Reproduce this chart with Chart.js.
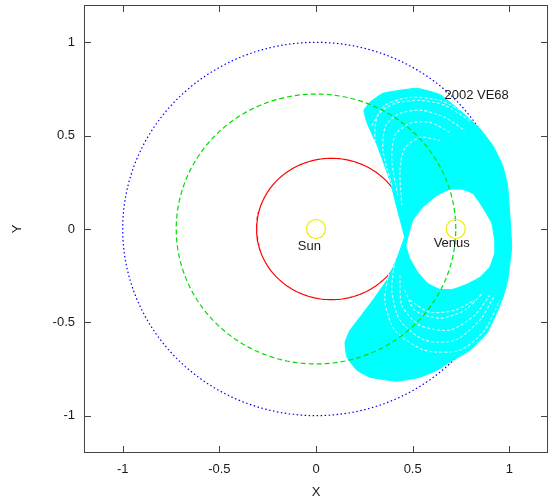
<!DOCTYPE html>
<html>
<head>
<meta charset="utf-8">
<script src="https://cdn.jsdelivr.net/npm/chart.js@4.4.1/dist/chart.umd.min.js"></script>
<style>
  html, body { margin: 0; padding: 0; background: #fff; }
</style>
</head>
<body>
<canvas id="orbitChart" width="552" height="499"></canvas>
<script>
// planet orbits (heliocentric, AU)
var orbitNames = ['Mercury', 'Venus', 'Earth'];
var orbitA = [0.387, 0.723, 1.0];
var orbitE = [0.206, 0.0, 0.0];

// Sun and Venus markers
var bodyNames = ['Sun', 'Venus'];
var bodyX = [0, 0.723];
var bodyY = [0, 0];

// outline of the region swept by 2002 VE68, starting at the narrow waist
var bandOutline = [
  [0.459, -0.044], [0.418, 0.116], [0.382, 0.261], [0.320, 0.438], [0.263, 0.571],
  [0.248, 0.636], [0.279, 0.679], [0.346, 0.727], [0.521, 0.754], [0.640, 0.721],
  [0.744, 0.636], [0.847, 0.539], [0.914, 0.448], [0.965, 0.341], [0.991, 0.234],
  [1.002, 0.084], [1.012, -0.098], [0.991, -0.275], [0.971, -0.355], [0.934, -0.452],
  [0.883, -0.560], [0.795, -0.651], [0.707, -0.703], [0.625, -0.757], [0.537, -0.794],
  [0.418, -0.815], [0.279, -0.794], [0.212, -0.757], [0.160, -0.687], [0.150, -0.607],
  [0.176, -0.543], [0.243, -0.451], [0.305, -0.366], [0.372, -0.264], [0.423, -0.146],
  [0.459, -0.044]
];
// empty hole round Venus
var holeOutline = [
  [0.475, -0.044], [0.465, -0.087], [0.485, -0.157], [0.527, -0.232], [0.578, -0.291],
  [0.640, -0.323], [0.707, -0.323], [0.780, -0.296], [0.847, -0.259], [0.898, -0.205],
  [0.924, -0.130], [0.924, -0.061], [0.909, 0.031], [0.862, 0.116], [0.811, 0.191],
  [0.754, 0.213], [0.692, 0.213], [0.625, 0.180], [0.552, 0.116], [0.501, 0.047],
  [0.475, -0.044]
];
// white gaps between the dashed loops
var gapArcs = [
  [[0.289, 0.555], [0.356, 0.662], [0.485, 0.705], [0.640, 0.689], [0.769, 0.625]],
  [[0.356, 0.288], [0.305, 0.475], [0.320, 0.609], [0.408, 0.673], [0.537, 0.689], [0.666, 0.663], [0.795, 0.582]],
  [[0.392, 0.234], [0.346, 0.422], [0.361, 0.555], [0.434, 0.620], [0.547, 0.636], [0.666, 0.598], [0.769, 0.528]],
  [[0.423, 0.180], [0.392, 0.368], [0.408, 0.502], [0.485, 0.566], [0.589, 0.572], [0.692, 0.518]],
  [[0.444, 0.127], [0.434, 0.314], [0.459, 0.432], [0.537, 0.491], [0.640, 0.475]],
  [[0.382, -0.212], [0.356, -0.382], [0.408, -0.543], [0.563, -0.650], [0.743, -0.650], [0.872, -0.543], [0.950, -0.382]],
  [[0.408, -0.168], [0.392, -0.328], [0.434, -0.489], [0.563, -0.596], [0.718, -0.596], [0.847, -0.489], [0.924, -0.355]],
  [[0.434, -0.248], [0.444, -0.409], [0.537, -0.516], [0.692, -0.542], [0.821, -0.462], [0.898, -0.355]],
  [[0.459, -0.328], [0.511, -0.435], [0.640, -0.478], [0.769, -0.435], [0.862, -0.344]],
  [[0.485, -0.382], [0.589, -0.446], [0.718, -0.435], [0.821, -0.382]]
];

// text labels
var labelText = ['Sun', 'Venus', '2002 VE68'];
var labelX = [-0.034, 0.702, 0.831];
var labelY = [-0.095, -0.077, 0.716];

var tickValues = [-1, -0.5, 0, 0.5, 1];

var FONT = '"Liberation Sans", Arial, sans-serif';
var TEXT = '#1a1a1a';

function orbitPoints(a, e) {
    var pts = [];
    var b = a * Math.sqrt(1 - e * e);
    for (var deg = 0; deg <= 360; deg += 2) {
        var t = deg * Math.PI / 180;
        pts.push({ x: a * (Math.cos(t) + e), y: b * Math.sin(t) });
    }
    return pts;
}

function toPoints(list) {
    return list.map(function (p) { return { x: p[0], y: p[1] }; });
}

var orbitStyle = [
    { color: '#ff0000', dash: [], width: 1.2, order: 10 },
    { color: '#00dd00', dash: [5, 3], width: 1.2, order: 5 },
    { color: '#0000ff', dash: [1.5, 2.5], width: 1.2, order: 11 }
];

var datasets = [];

orbitNames.forEach(function (name, i) {
    datasets.push({
        label: name,
        data: orbitPoints(orbitA[i], orbitE[i]),
        borderColor: orbitStyle[i].color,
        borderDash: orbitStyle[i].dash,
        borderWidth: orbitStyle[i].width,
        pointRadius: 0,
        fill: false,
        order: orbitStyle[i].order
    });
});

// band polygon: outer outline, then the hole traced the other way round
datasets.push({
    label: '2002 VE68',
    data: toPoints(bandOutline.concat(holeOutline)),
    borderColor: '#00ffff',
    backgroundColor: '#00ffff',
    borderWidth: 1,
    pointRadius: 0,
    tension: 0.12,
    fill: 'shape',
    order: 9
});

gapArcs.forEach(function (arc, i) {
    datasets.push({
        label: 'gap' + i,
        data: toPoints(arc),
        borderColor: 'rgba(255,255,255,0.8)',
        borderDash: [3, 2],
        borderWidth: 1.2,
        pointRadius: 0,
        tension: 0.25,
        fill: false,
        order: 8
    });
});

datasets.push({
    label: 'bodies',
    data: bodyNames.map(function (n, i) { return { x: bodyX[i], y: bodyY[i] }; }),
    showLine: false,
    pointRadius: 9.5,
    pointStyle: 'circle',
    pointBackgroundColor: 'rgba(0,0,0,0)',
    pointBorderColor: '#eeee00',
    pointBorderWidth: 1.2,
    order: 1
});

var frameAndText = {
    id: 'frameAndText',
    afterDatasetsDraw: function (chart) {
        var ctx = chart.ctx, a = chart.chartArea;
        var xs = chart.scales.x, ys = chart.scales.y;
        ctx.save();
        ctx.font = '13px ' + FONT;
        ctx.fillStyle = TEXT;
        ctx.textAlign = 'center';
        ctx.textBaseline = 'middle';
        labelText.forEach(function (t, i) {
            ctx.fillText(t, xs.getPixelForValue(labelX[i]), ys.getPixelForValue(labelY[i]));
        });

        ctx.strokeStyle = '#444';
        ctx.lineWidth = 1;
        ctx.strokeRect(a.left + 0.5, a.top + 0.5, a.right - a.left - 1, a.bottom - a.top - 1);
        ctx.beginPath();
        var len = 7;
        tickValues.forEach(function (v) {
            var px = Math.round(xs.getPixelForValue(v)) + 0.5;
            ctx.moveTo(px, a.bottom); ctx.lineTo(px, a.bottom - len);
            ctx.moveTo(px, a.top); ctx.lineTo(px, a.top + len);
            var py = Math.round(ys.getPixelForValue(v)) + 0.5;
            ctx.moveTo(a.left, py); ctx.lineTo(a.left + len, py);
            ctx.moveTo(a.right, py); ctx.lineTo(a.right - len, py);
        });
        ctx.stroke();
        ctx.restore();
    }
};

function noEdgePadding(s) {
    s.paddingTop = 0;
    s.paddingBottom = 0;
    s.paddingLeft = 0;
    s.paddingRight = 0;
}

var ctx = document.getElementById('orbitChart').getContext('2d');

var orbitChart = new Chart(ctx, {
    type: 'line',
    data: { datasets: datasets },
    options: {
        responsive: false,
        animation: false,
        devicePixelRatio: 1,
        events: [],
        elements: { line: { tension: 0 } },
        layout: { autoPadding: false, padding: { top: 5, right: 4, left: 0, bottom: 0 } },
        plugins: {
            legend: { display: false },
            tooltip: { enabled: false }
        },
        scales: {
            x: {
                type: 'linear',
                min: -1.2,
                max: 1.2,
                afterBuildTicks: function (s) { s.ticks = tickValues.map(function (v) { return { value: v }; }); },
                afterFit: function (s) { s.height = 46; noEdgePadding(s); },
                ticks: {
                    font: { family: FONT, size: 13 }, color: TEXT, padding: 9,
                    callback: function (v) { return String(v); }
                },
                grid: { drawOnChartArea: false, drawTicks: false },
                border: { display: false },
                title: { display: true, text: 'X', color: TEXT, font: { family: FONT, size: 13, lineHeight: 1 }, padding: 0 }
            },
            y: {
                type: 'linear',
                min: -1.2,
                max: 1.2,
                afterBuildTicks: function (s) { s.ticks = tickValues.map(function (v) { return { value: v }; }); },
                afterFit: function (s) { s.width = 84; noEdgePadding(s); },
                ticks: {
                    font: { family: FONT, size: 13 }, color: TEXT, padding: 9,
                    callback: function (v) { return String(v); }
                },
                grid: { drawOnChartArea: false, drawTicks: false },
                border: { display: false },
                title: { display: true, text: 'Y', color: TEXT, font: { family: FONT, size: 13 }, padding: { top: 10, bottom: 0 } }
            }
        }
    },
    plugins: [frameAndText]
});
</script>
</body>
</html>
